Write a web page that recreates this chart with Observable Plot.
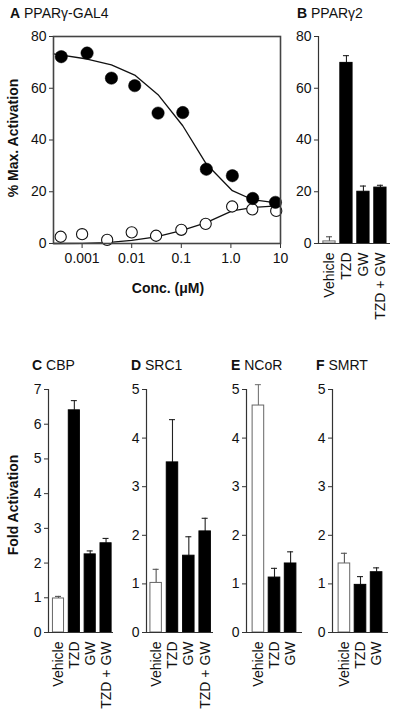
<!DOCTYPE html>
<html>
<head>
<meta charset="utf-8">
<script src="https://cdn.jsdelivr.net/npm/d3@7"></script>
<script src="https://cdn.jsdelivr.net/npm/@observablehq/plot@0.6"></script>
<style>
  html, body { margin: 0; padding: 0; background: #fff; }
  #root { position: relative; width: 400px; height: 720px; overflow: hidden; background: #fff;
          font-family: "Liberation Sans", Arial, Helvetica, sans-serif; color: #111; }
  .abs { position: absolute; }
  .t { position: absolute; font-size: 14px; line-height: 14px; white-space: nowrap; }
  .t b { font-weight: bold; }
  #root svg text { font-size: 14px; font-family: "Liberation Sans", Arial, Helvetica, sans-serif; }
</style>
</head>
<body>
<div id="root"></div>
<script>
// ---------- Panel A: PPARγ-GAL4 dose response ----------
const concFilled = [0.00038, 0.00126, 0.0039, 0.0115, 0.034, 0.107, 0.32, 1.07, 2.75, 7.9];
const actFilled  = [72.2, 73.6, 63.9, 61.0, 50.4, 50.6, 28.7, 26.2, 17.4, 15.9];
const concOpen   = [0.00037, 0.001, 0.0032, 0.01, 0.031, 0.1, 0.31, 1.06, 2.7, 8.2];
const actOpen    = [2.6, 3.6, 1.4, 4.3, 3.0, 5.3, 7.6, 14.3, 13.2, 12.6];
const fitConcFilled = [0.000265, 0.00126, 0.0039, 0.0115, 0.034, 0.107, 0.32, 1.07, 2.75, 10];
const fitFilled     = [73.3, 71.3, 69.0, 65.1, 57.5, 45.5, 30.7, 20.4, 16.9, 15.5];
const fitConcOpen   = [0.000265, 0.001, 0.0032, 0.01, 0.031, 0.1, 0.31, 1.06, 2.7, 10];
const fitOpen       = [0.0, 0.05, 0.3, 1.2, 2.6, 5.0, 8.0, 12.6, 13.9, 14.6];
const xTicksA = [0.001, 0.01, 0.1, 1, 10];
const xTickLabelsA = ["0.001", "0.01", "0.1", "1.0", "10"];
const yTicksA = [0, 20, 40, 60, 80];

// ---------- Panel B: PPARγ2 ----------
const catsB = ["Vehicle", "TZD", "GW", "TZD + GW"];
const valsB = [0.8, 69.8, 20.0, 21.6];
const errsB = [2.6, 72.6, 22.2, 22.5];
const yTicksB = [0, 20, 40, 60, 80];

// ---------- Panels C–F: Fold Activation ----------
const catsC = ["Vehicle", "TZD", "GW", "TZD + GW"];
const valsC = [0.98, 6.4, 2.25, 2.57];
const errsC = [1.04, 6.68, 2.35, 2.71];
const catsD = ["Vehicle", "TZD", "GW", "TZD + GW"];
const valsD = [1.02, 3.5, 1.58, 2.08];
const errsD = [1.3, 4.38, 1.97, 2.35];
const catsE = ["Vehicle", "TZD", "GW"];
const valsE = [4.67, 1.13, 1.42];
const errsE = [5.1, 1.32, 1.66];
const catsF = ["Vehicle", "TZD", "GW"];
const valsF = [1.42, 0.98, 1.24];
const errsF = [1.63, 1.15, 1.33];
const yTicksC = [0, 1, 2, 3, 4, 5, 6, 7];
const yTicks5 = [0, 1, 2, 3, 4, 5];

const FONT = '"Liberation Sans", Arial, Helvetica, sans-serif';
const root = document.getElementById("root");

function place(el, left, top) {
  el.classList.add("abs");
  el.style.left = left + "px";
  el.style.top = top + "px";
  root.appendChild(el);
}
function text(html, left, top, extra) {
  const d = document.createElement("div");
  d.className = "t";
  d.innerHTML = html;
  d.style.left = left + "px";
  d.style.top = top + "px";
  if (extra) Object.assign(d.style, extra);
  root.appendChild(d);
  return d;
}
const baseStyle = `font-family: ${FONT}; font-size: 14px; color: #111; background: transparent; overflow: visible;`;

// Panel A
{
  const filled = concFilled.map((c, i) => ({c, v: actFilled[i]}));
  const open = concOpen.map((c, i) => ({c, v: actOpen[i]}));
  const fitF = fitConcFilled.map((c, i) => ({c, v: fitFilled[i]}));
  const fitO = fitConcOpen.map((c, i) => ({c, v: fitOpen[i]}));
  const lab = new Map(xTicksA.map((t, i) => [t, xTickLabelsA[i]]));
  const p = Plot.plot({
    width: 285, height: 300,
    marginLeft: 53, marginRight: 5, marginTop: 36, marginBottom: 57,
    style: baseStyle,
    x: {type: "log", domain: [0.000265, 10]},
    y: {domain: [0, 80]},
    marks: [
      Plot.axisY({ticks: yTicksA, tickFormat: d => String(d), tickSize: 4, tickPadding: 3, label: null, stroke: "#333", fill: "#111"}),
      Plot.axisX({ticks: xTicksA, tickFormat: d => lab.get(d), tickSize: 5, tickPadding: 5, label: null, stroke: "#333", fill: "#111"}),
      Plot.line(fitO, {x: "c", y: "v", stroke: "#111", strokeWidth: 1.3}),
      Plot.line(fitF, {x: "c", y: "v", stroke: "#111", strokeWidth: 1.3}),
      Plot.dot(open, {x: "c", y: "v", r: 5.6, fill: "#fff", stroke: "#111", strokeWidth: 1.1}),
      Plot.dot(filled, {x: "c", y: "v", r: 6.2, fill: "#000", stroke: "#000", strokeWidth: 0.5}),
      Plot.frame({stroke: "#444", strokeWidth: 1.6})
    ]
  });
  place(p, 0, 0);
}

// Bar panel helper
function barPanel({left, top, width, height, ml, mr, mt, mb, cats, vals, errs, yDomain, yTicks, pi, po, align, errColor}) {
  const data = cats.map((c, i) => ({c, v: vals[i], e: errs[i], vehicle: i === 0}));
  const band = d3.scaleBand().domain(cats).range([ml, width - mr]).paddingInner(pi).paddingOuter(po).align(align);
  const bw = band.bandwidth();
  const capInset = Math.max(0, (bw - 6) / 2);
  const axisDx = ml - (band(cats[0]) + bw / 2);
  const p = Plot.plot({
    width, height, marginLeft: ml, marginRight: mr, marginTop: mt, marginBottom: mb,
    style: baseStyle,
    x: {domain: cats, paddingInner: pi, paddingOuter: po, align, round: false},
    y: {domain: yDomain},
    marks: [
      Plot.ruleX([cats[0]], {dx: axisDx, stroke: "#333", strokeWidth: 1.2}),
      Plot.axisY({ticks: yTicks, tickFormat: d => String(d), tickSize: 4, tickPadding: 3, label: null, stroke: "#333", fill: "#111"}),
      Plot.axisX({tickRotate: -90, tickSize: 0, tickPadding: 9, label: null, fill: "#111"}),
      Plot.ruleX(data, {x: "c", y1: "v", y2: "e", stroke: d => d.vehicle ? (errColor || "#555") : "#222", strokeWidth: 1.1}),
      Plot.tickY(data, {x: "c", y: "e", insetLeft: capInset, insetRight: capInset, stroke: d => d.vehicle ? (errColor || "#555") : "#222", strokeWidth: 1.1}),
      Plot.barY(data, {x: "c", y: "v", fill: d => d.vehicle ? "#fff" : "#000", stroke: d => d.vehicle ? "#666" : "#000", strokeWidth: 1}),
      Plot.ruleY([0], {stroke: "#333", strokeWidth: 1.2})
    ]
  });
  place(p, left, top);
}

// Panel B
barPanel({left: 285, top: 0, width: 115, height: 330, ml: 33, mr: 10, mt: 36, mb: 87,
  cats: catsB, vals: valsB, errs: errsB, yDomain: [0, 80], yTicks: yTicksB, pi: 0.28, po: 0.26, align: 0.55});

// Panels C–F
barPanel({left: 0, top: 375, width: 125, height: 345, ml: 48, mr: 12, mt: 14, mb: 88,
  cats: catsC, vals: valsC, errs: errsC, yDomain: [0, 7], yTicks: yTicksC, pi: 0.3, po: 0.2, align: 0.7});
barPanel({left: 125, top: 375, width: 100, height: 345, ml: 21, mr: 12, mt: 14, mb: 88,
  cats: catsD, vals: valsD, errs: errsD, yDomain: [0, 5], yTicks: yTicks5, pi: 0.3, po: 0.2, align: 0.6});
barPanel({left: 225, top: 375, width: 87, height: 345, ml: 21, mr: 10, mt: 14, mb: 88,
  cats: catsE, vals: valsE, errs: errsE, yDomain: [0, 5], yTicks: yTicks5, pi: 0.28, po: 0.38, align: 0.5, errColor: "#777"});
barPanel({left: 312, top: 375, width: 88, height: 345, ml: 20, mr: 12, mt: 14, mb: 88,
  cats: catsF, vals: valsF, errs: errsF, yDomain: [0, 5], yTicks: yTicks5, pi: 0.28, po: 0.38, align: 0.5});

// Titles and axis labels
text("<b>A</b> PPARγ-GAL4", 10, 6);
text("<b>B</b> PPARγ2", 297, 6);
text("<b>C</b> CBP", 32, 358);
text("<b>D</b> SRC1", 131, 358);
text("<b>E</b> NCoR", 231, 358);
text("<b>F</b> SMRT", 316, 358);
text("<b>Conc. (μM)</b>", 100, 281, {width: "136px", textAlign: "center"});
text("<b>% Max. Activation</b>", 13, 138, {transform: "translate(-50%, -50%) rotate(-90deg)"});
text("<b>Fold Activation</b>", 13, 505, {transform: "translate(-50%, -50%) rotate(-90deg)"});
</script>
</body>
</html>
